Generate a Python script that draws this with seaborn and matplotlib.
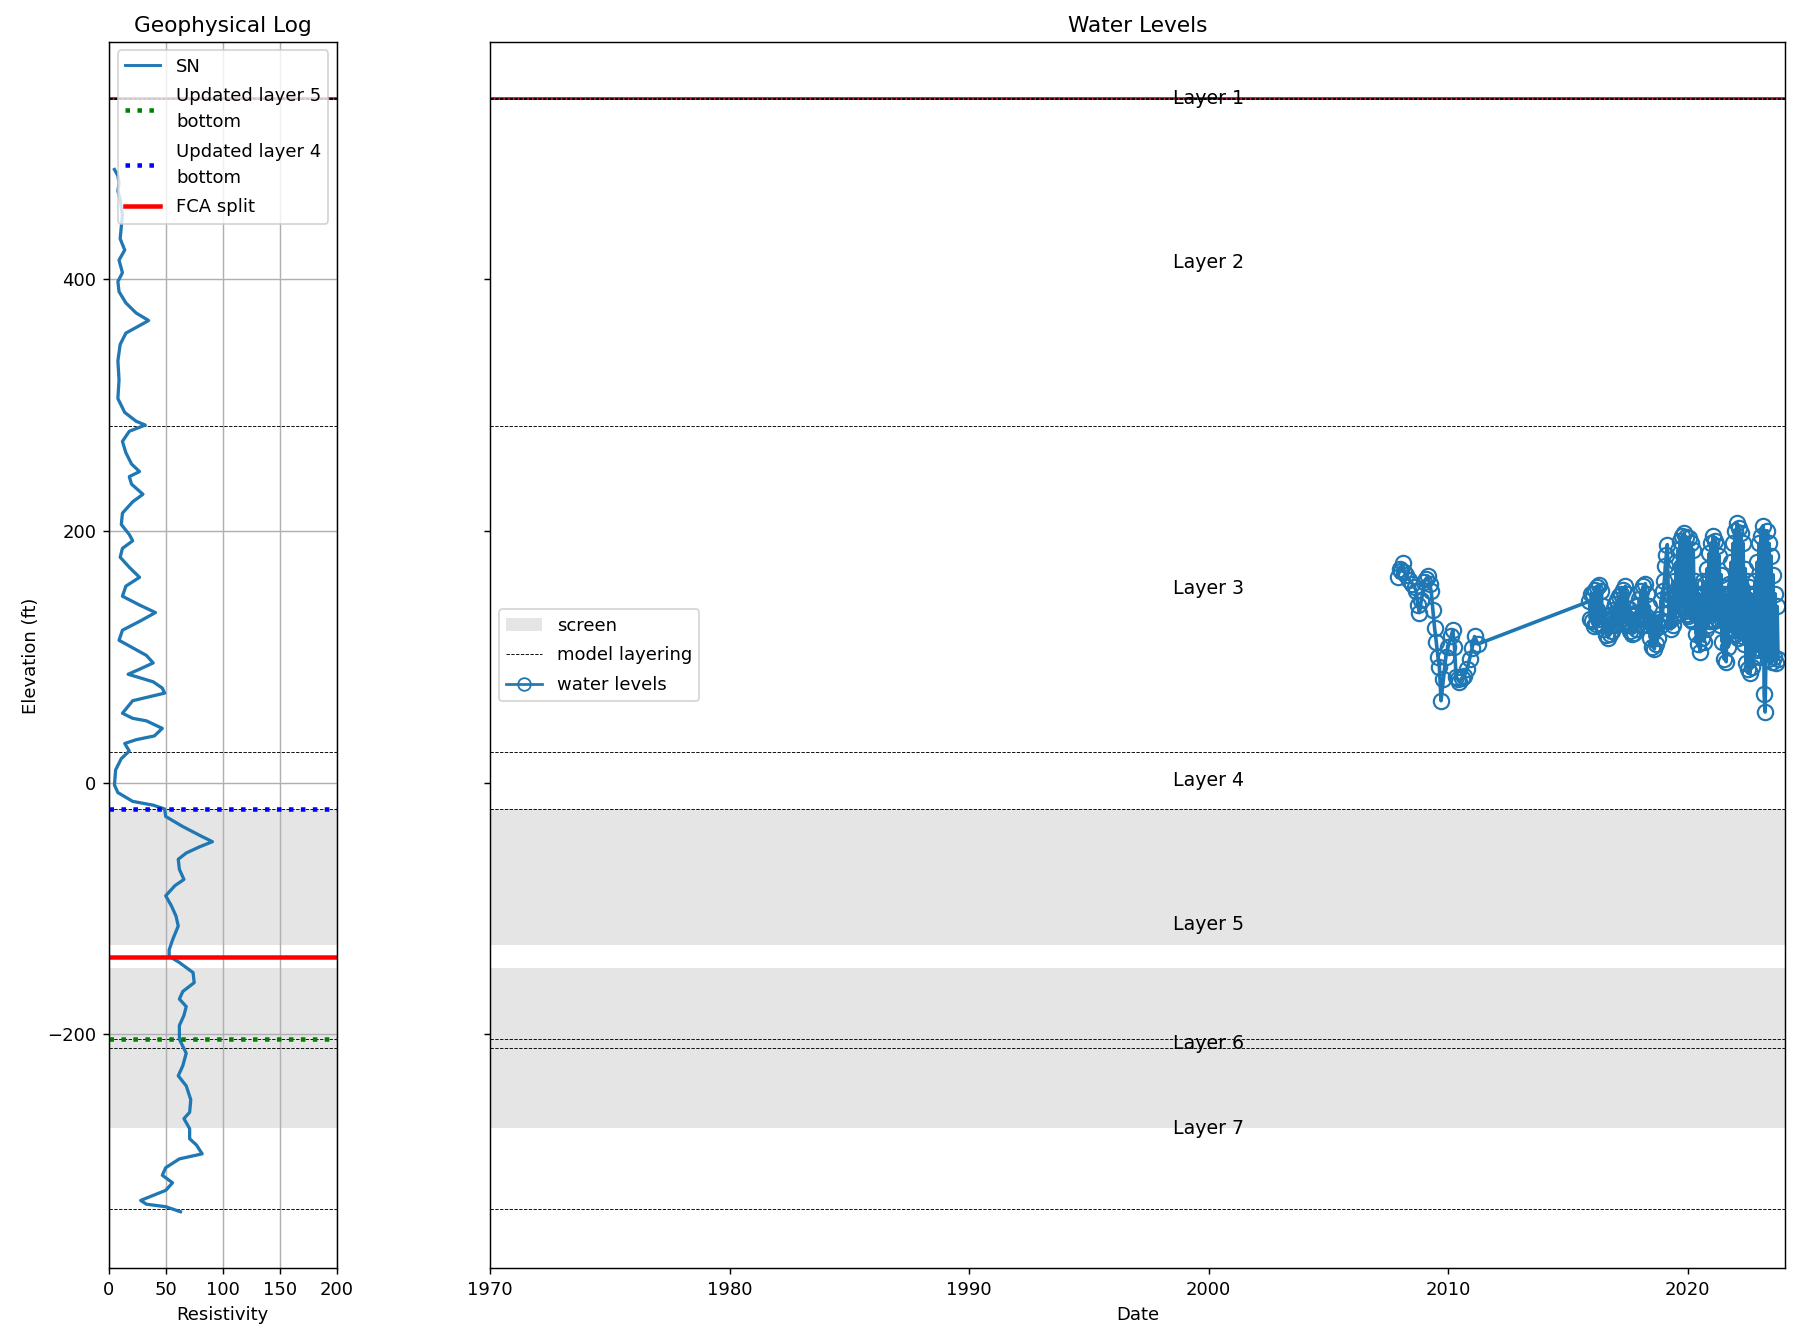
import matplotlib
matplotlib.use("Agg")
import matplotlib.pyplot as plt
from matplotlib.lines import Line2D
from matplotlib.patches import Patch
import numpy as np
import pandas as pd
import seaborn as sns

# model surfaces (ft): top of layer 1 then the bottom of each layer
surface_elev = [544, 543, 283.6, 24.5, -21, -204, -211, -339]
layer_names = ["Layer 1", "Layer 2", "Layer 3", "Layer 4", "Layer 5", "Layer 6", "Layer 7"]
screen_top = [-21, -147]
screen_bot = [-129, -274.5]
land_surface = 544
fca_split = -139
updated_l4_bottom = -21
updated_l5_bottom = -204

# SN resistivity log, top to bottom
sn_elev = [487, 482, 476, 470, 463, 451, 432, 423, 415, 405, 398, 390, 381, 373, 367, 363, 357, 348,
	335, 320, 305, 294, 287, 284, 279, 271, 262, 253, 247, 243, 237, 229, 223, 214, 205, 197, 192,
	186, 179, 171, 163, 156, 148, 141, 135, 128, 121, 113, 107, 101, 95, 90, 86, 80, 75, 71, 65, 55,
	51, 49, 43, 37, 34, 31, 25, 19, 10, -2, -8, -15, -18, -21, -27, -35, -43, -47, -51, -56, -61,
	-69, -77, -82, -90, -98, -106, -114, -125, -133, -138, -143, -151, -159, -166, -172, -178, -185,
	-193, -204, -215, -225, -233, -241, -252, -262, -267, -275, -283, -288, -295, -299, -306, -312,
	-318, -324, -328, -332, -335, -337, -341]
sn_res = [5, 8, 9, 8, 10, 12, 10, 14, 9, 12, 8, 9, 15, 24, 35, 27, 15, 10,
	8, 9, 8, 14, 24, 32, 18, 12, 15, 20, 27, 18, 20, 30, 21, 12, 11, 18, 21,
	12, 10, 18, 27, 15, 12, 27, 41, 27, 12, 9, 21, 33, 39, 27, 17, 39, 47, 49, 21, 12,
	21, 33, 47, 40, 24, 14, 18, 11, 6, 5, 8, 21, 39, 49, 50, 65, 82, 91, 80, 68, 61,
	62, 66, 58, 50, 55, 59, 61, 56, 53, 53, 62, 74, 75, 65, 62, 68, 66,
	62, 62, 68, 65, 61, 68, 72, 71, 66, 71, 71, 77, 82, 62, 50, 47,
	56, 50, 39, 28, 33, 50, 63]

# water levels 2007-2011 (decimal year, ft)
wl_early_year = [2007.90, 2007.97, 2008.05, 2008.10, 2008.17, 2008.25, 2008.38, 2008.50, 2008.60,
	2008.66, 2008.73, 2008.80, 2008.88, 2009.00, 2009.08, 2009.15, 2009.22, 2009.29, 2009.36,
	2009.43, 2009.50, 2009.57, 2009.63, 2009.70, 2009.80, 2009.90, 2010.00, 2010.12, 2010.19,
	2010.26, 2010.33, 2010.40, 2010.47, 2010.57, 2010.68, 2010.79, 2010.89, 2011.00, 2011.10, 2011.24]
wl_early_level = [163, 170, 168, 174, 167, 165, 161, 158, 155,
	152, 141, 135, 145, 159, 162, 164, 158, 152, 137,
	123, 112, 100, 92, 65, 82, 100, 108, 116, 121,
	108, 84, 82, 80, 83, 85, 90, 98, 107, 116, 110]

# transducer record, twice-monthly readings (ft)
wl_2015 = [144, 130, 150]  # last three half-months of 2015
wl_2016 = [128, 150, 124, 153, 126, 155, 130, 157, 127, 152, 125, 140,
	122, 132, 117, 130, 115, 128, 118, 133, 120, 137, 125, 142]
wl_2017 = [128, 145, 126, 148, 130, 150, 127, 153, 131, 156, 128, 150,
	125, 138, 120, 134, 118, 132, 119, 135, 122, 140, 126, 146]
wl_2018 = [131, 152, 133, 156, 130, 158, 132, 150, 125, 140, 115, 128,
	108, 124, 106, 122, 110, 126, 115, 130, 124, 145, 128, 152]
wl_2019 = [160, 172, 181, 189, 150, 128, 145, 122, 148, 125, 160, 132,
	175, 135, 185, 138, 192, 140, 196, 142, 198, 136, 195, 134]
wl_2020 = [132, 194, 130, 190, 128, 185, 140, 160, 118, 155, 110, 150,
	104, 148, 115, 160, 112, 158, 122, 170, 125, 182, 128, 190]
wl_2021 = [130, 196, 128, 192, 135, 188, 130, 180, 125, 165, 112, 155,
	98, 150, 96, 148, 108, 158, 120, 175, 126, 190, 122, 200]
wl_2022 = [118, 206, 115, 202, 120, 198, 116, 190, 110, 170, 95, 160,
	90, 155, 87, 150, 92, 148, 100, 160, 105, 175, 110, 190]
wl_2023 = [100, 196, 105, 204, 70, 56, 110, 200, 98, 190, 102, 180,
	96, 165, 100, 150, 95, 140, 98]


def _half_month_series(year: int, values: list[float], first_slot: int = 0) -> pd.DataFrame:
	slots = np.arange(len(values)) + first_slot
	return pd.DataFrame({"year": year + (slots + 0.5) / 24.0, "level": values})


def main() -> None:
	sn_df = pd.DataFrame({"res": sn_res, "elev": sn_elev})

	parts = [pd.DataFrame({"year": wl_early_year, "level": wl_early_level})]
	parts.append(_half_month_series(2015, wl_2015, first_slot=21))
	for yr, vals in [(2016, wl_2016), (2017, wl_2017), (2018, wl_2018), (2019, wl_2019),
			(2020, wl_2020), (2021, wl_2021), (2022, wl_2022), (2023, wl_2023)]:
		parts.append(_half_month_series(yr, vals))
	wl_df = pd.concat(parts, ignore_index=True)

	dpi = 130
	fig = plt.figure(figsize=(1795 / dpi, 1336 / dpi), dpi=dpi)
	ax_log = fig.add_axes([0.0606, 0.0506, 0.1269, 0.9177])
	ax_wl = fig.add_axes([0.2730, 0.0506, 0.7213, 0.9177], sharey=ax_log)

	screen_color = "#e5e5e5"
	for ax in (ax_log, ax_wl):
		for top, bot in zip(screen_top, screen_bot):
			ax.axhspan(bot, top, color=screen_color, lw=0, zorder=0.5)
		ax.axhline(land_surface, color="crimson", lw=1.6, zorder=1.8)
		for elev in surface_elev:
			ax.axhline(elev, color="k", ls="--", lw=0.5, zorder=1.9)

	# geophysical log
	sns.lineplot(data=sn_df, x="res", y="elev", sort=False, estimator=None,
		color="#1f77b4", lw=1.8, ax=ax_log)
	ax_log.axhline(updated_l5_bottom, color="green", ls=":", lw=2.5)
	ax_log.axhline(updated_l4_bottom, color="blue", ls=":", lw=2.5)
	ax_log.axhline(fca_split, color="red", lw=2.5)
	ax_log.grid(True)
	ax_log.set_xlim(0, 200)
	ax_log.set_xticks([0, 50, 100, 150, 200])
	ax_log.set_ylim(-386, 588)
	ax_log.set_yticks([-200, 0, 200, 400])
	ax_log.set_xlabel("Resistivity")
	ax_log.set_ylabel("Elevation (ft)")
	ax_log.set_title("Geophysical Log")
	log_handles = [
		Line2D([], [], color="#1f77b4", lw=1.6, label="SN"),
		Line2D([], [], color="green", ls=":", lw=2.5, label="Updated layer 5\nbottom"),
		Line2D([], [], color="blue", ls=":", lw=2.5, label="Updated layer 4\nbottom"),
		Line2D([], [], color="red", lw=2.5, label="FCA split"),
	]
	leg = ax_log.legend(handles=log_handles, loc="upper right", labelspacing=0.65,
		handlelength=1.9, handletextpad=0.9, borderaxespad=0.45)
	for t in leg.get_texts():
		t.set_linespacing(1.55)

	# water levels
	sns.lineplot(data=wl_df, x="year", y="level", sort=False, estimator=None,
		color="#1f77b4", lw=2.0, marker="o", markersize=8.5, markerfacecolor="none",
		markeredgecolor="#1f77b4", markeredgewidth=1.2, ax=ax_wl)
	for i, name in enumerate(layer_names):
		mid = (surface_elev[i] + surface_elev[i + 1]) / 2
		ax_wl.text(2000, mid, name, ha="center", va="center", fontsize=10.5, zorder=3)
	ax_wl.set_xlim(1970, 2024.05)
	ax_wl.set_xticks([1970, 1980, 1990, 2000, 2010, 2020])
	ax_wl.tick_params(labelleft=False)
	ax_wl.set_xlabel("Date")
	ax_wl.set_ylabel("")
	ax_wl.set_title("Water Levels")
	wl_handles = [
		Patch(facecolor=screen_color, edgecolor="none", label="screen"),
		Line2D([], [], color="k", ls="--", lw=0.5, label="model layering"),
		Line2D([], [], color="#1f77b4", lw=1.5, marker="o", markersize=7,
			markerfacecolor="none", label="water levels"),
	]
	ax_wl.legend(handles=wl_handles, loc="center left", labelspacing=0.65)

	fig.savefig("out.png", dpi=dpi)
	plt.close(fig)


if __name__ == "__main__":
	main()
